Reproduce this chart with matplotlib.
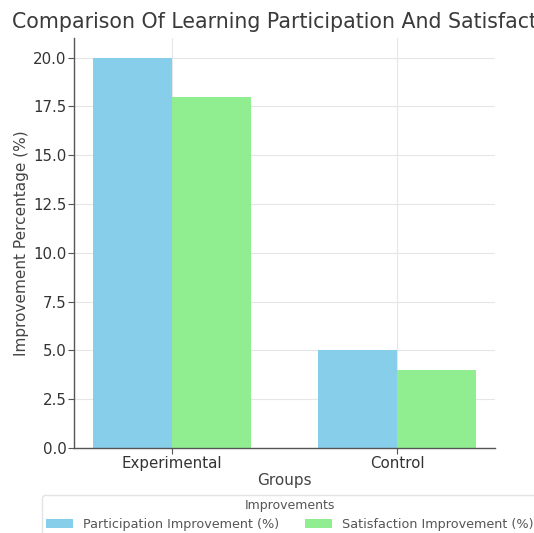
import matplotlib
matplotlib.use("Agg")
import matplotlib.pyplot as plt
import numpy as np

groups = ["Experimental", "Control"]
participation = [20, 5]
satisfaction = [18, 4]
series_labels = ["Participation Improvement (%)", "Satisfaction Improvement (%)"]
title = "Comparison Of Learning Participation And Satisfaction"

W, H = 534, 533
fig = plt.figure(figsize=(W / 100, H / 100), dpi=100)
ax = fig.add_axes([74 / W, 1 - 448 / H, (495 - 74) / W, (448 - 38) / H])

x = np.arange(len(groups))
width = 0.35
b1 = ax.bar(x - width / 2, participation, width, color="#87CEEB", label=series_labels[0], zorder=2)
b2 = ax.bar(x + width / 2, satisfaction, width, color="#90EE90", label=series_labels[1], zorder=2)

ax.set_xticks(x)
ax.set_xticklabels(groups, fontsize=10.8)
yt = np.arange(0, 20.01, 2.5)
ax.set_yticks(yt)
ax.set_yticklabels([f"{v:.1f}" for v in yt], fontsize=10.8)
ax.set_ylim(0, 21)
ax.set_xlim(-0.435, 1.435)
ax.set_xlabel("Groups", fontsize=11, color="#444444", labelpad=2)
ax.set_ylabel("Improvement Percentage (%)", fontsize=11, color="#444444", labelpad=3)
ax.grid(True, color="#e6e6e6", linewidth=0.8, zorder=0)
ax.set_axisbelow(True)
for s in ["top", "right"]:
    ax.spines[s].set_visible(False)
for s in ["left", "bottom"]:
    ax.spines[s].set_color("#555555")
    ax.spines[s].set_linewidth(1.0)
ax.tick_params(colors="#555555", length=4, width=0.8, labelcolor="#333333", pad=1.5)

fig.text(12.5 / W, 1 - 22 / H, title, ha="left", va="center", fontsize=14.8, color="#3a3a3a")

leg = fig.legend(handles=[b1, b2], labels=series_labels, title="Improvements",
                 loc="upper left", bbox_to_anchor=(42 / W, 1 - 495 / H),
                 borderaxespad=0, labelspacing=0.4, borderpad=0.35,
                 handlelength=2.05, handletextpad=0.8, columnspacing=2.1,
                 ncol=2, fontsize=9.15, title_fontsize=9, frameon=True,
                 edgecolor="#dddddd", fancybox=True)
for t in leg.get_texts():
    t.set_color("#555555")
leg.get_title().set_color("#555555")

fig.savefig("out.png", dpi=100)
